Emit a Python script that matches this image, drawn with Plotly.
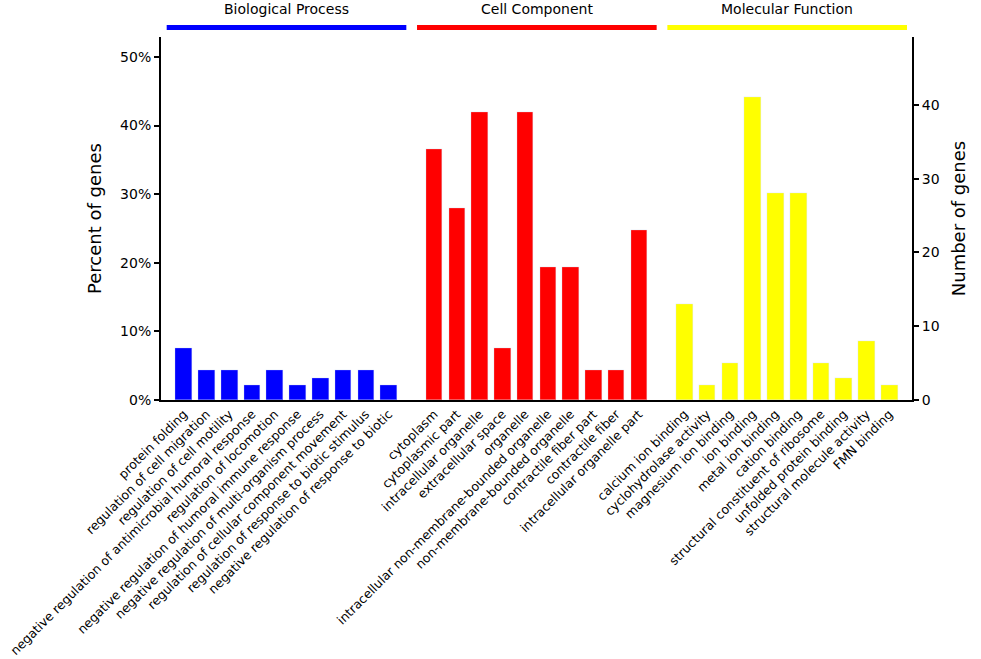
import plotly.graph_objects as go

# ---------------- data ----------------
total_genes = 93

bp_terms = [
    "protein folding",
    "regulation of cell migration",
    "regulation of cell motility",
    "negative regulation of antimicrobial humoral response",
    "regulation of locomotion",
    "negative regulation of humoral immune response",
    "negative regulation of multi-organism process",
    "regulation of cellular component movement",
    "regulation of response to biotic stimulus",
    "negative regulation of response to biotic",
]
bp_counts = [7, 4, 4, 2, 4, 2, 3, 4, 4, 2]

cc_terms = [
    "cytoplasm",
    "cytoplasmic part",
    "intracellular organelle",
    "extracellular space",
    "organelle",
    "intracellular non-membrane-bounded organelle",
    "non-membrane-bounded organelle",
    "contractile fiber part",
    "contractile fiber",
    "intracellular organelle part",
]
cc_counts = [34, 26, 39, 7, 39, 18, 18, 4, 4, 23]

mf_terms = [
    "calcium ion binding",
    "cyclohydrolase activity",
    "magnesium ion binding",
    "ion binding",
    "metal ion binding",
    "cation binding",
    "structural constituent of ribosome",
    "unfolded protein binding",
    "structural molecule activity",
    "FMN binding",
]
mf_counts = [13, 2, 5, 41, 28, 28, 5, 3, 8, 2]

group_names = ["Biological Process", "Cell Component", "Molecular Function"]
group_colors = ["#0000FF", "#FF0000", "#FFFF00"]
group_terms = [bp_terms, cc_terms, mf_terms]
group_counts = [bp_counts, cc_counts, mf_counts]

pct_ticks = [0, 10, 20, 30, 40, 50]
num_ticks = [0, 10, 20, 30, 40]
pct_max = 52.9

# ---------------- figure ----------------
FONT = "DejaVu Sans, Verdana, sans-serif"
fig = go.Figure()

tickvals, ticktext = [], []
pos = 0
shapes, annotations = [], []
for name, color, terms, counts in zip(group_names, group_colors, group_terms, group_counts):
    xs = list(range(pos, pos + len(terms)))
    pct = [c / total_genes * 100 for c in counts]
    fig.add_trace(go.Bar(x=xs, y=pct, marker=dict(color=color, line=dict(width=0)),
                         width=0.73, name=name, showlegend=False,
                         customdata=counts,
                         hovertemplate="%{text}<br>%{customdata} genes (%{y:.1f}%)<extra></extra>",
                         text=terms, textposition="none"))
    # invisible twin on the count axis
    fig.add_trace(go.Bar(x=xs, y=counts, yaxis="y2", marker=dict(color="rgba(0,0,0,0)"),
                         width=0.73, showlegend=False, hoverinfo="skip"))
    tickvals += xs
    ticktext += terms
    shapes.append(dict(type="line", xref="x", yref="paper",
                       x0=xs[0] - 0.75, x1=xs[-1] + 0.78, y0=1.026, y1=1.026,
                       line=dict(color=color, width=5)))
    annotations.append(dict(x=(xs[0] + xs[-1]) / 2, y=1.076, xref="x", yref="paper",
                            text=name, showarrow=False,
                            font=dict(size=14, color="black", family=FONT),
                            xanchor="center", yanchor="middle"))
    pos += len(terms) + 1

fig.update_layout(
    width=981, height=659,
    margin=dict(l=161, r=69, t=37, b=259, autoexpand=False),
    plot_bgcolor="white", paper_bgcolor="white",
    barmode="overlay", bargap=0,
    font=dict(family=FONT, color="black"),
    shapes=shapes, annotations=annotations,
    xaxis=dict(range=[-1, pos - 1], tickvals=tickvals, ticktext=ticktext,
               tickangle=-45, tickfont=dict(size=12.5), showgrid=False, zeroline=False,
               showline=True, linecolor="black", linewidth=2, ticks="",
               ticklabeloverflow="allow", automargin=False),
    yaxis=dict(range=[0, pct_max], tickvals=pct_ticks,
               ticktext=[f"{t}%" for t in pct_ticks], tickfont=dict(size=14),
               showgrid=False, zeroline=False, showline=True, linecolor="black",
               linewidth=2, ticks="outside", ticklen=5, tickwidth=2, tickcolor="black",
               automargin=False,
               title=dict(text="Percent of genes", font=dict(size=18), standoff=14)),
    yaxis2=dict(range=[0, pct_max * total_genes / 100], tickvals=num_ticks,
                tickfont=dict(size=14), overlaying="y", side="right",
                showgrid=False, zeroline=False, showline=True, linecolor="black",
                linewidth=2, ticks="outside", ticklen=5, tickwidth=2, tickcolor="black",
                automargin=False,
                title=dict(text="Number of genes", font=dict(size=18), standoff=14)),
)

fig.write_html("out.html", config={"displayModeBar": False},
               post_script="document.body.style.margin='0';document.body.style.overflow='hidden';")
